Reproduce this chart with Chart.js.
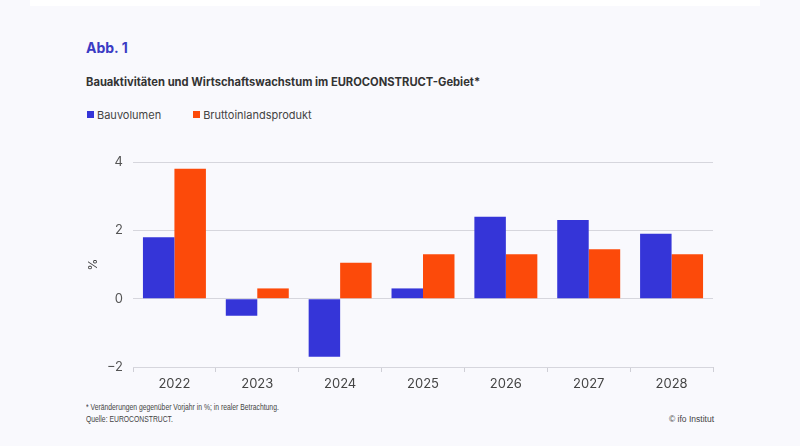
<!DOCTYPE html>
<html>
<head>
<meta charset="utf-8">
<script src="https://cdn.jsdelivr.net/npm/chart.js@4"></script>
<style>
  body { margin: 0; background: #f9f9fd; }
  #wrap { position: relative; width: 800px; height: 446px; overflow: hidden; background: #f9f9fd; }
  #topband { position: absolute; left: 30px; top: 0; width: 730px; height: 6px; background: #ffffff; }
  .txt { position: absolute; white-space: nowrap; font-family: Inter, "Noto Sans", sans-serif; }
  #abb { left: 86px; top: 39px; font-size: 14px; font-weight: 700; color: #3b3bc4; }
  #title { left: 86px; top: 75px; font-size: 11.2px; font-weight: 700; color: #333; }
  #legend { left: 87px; top: 108px; font-size: 11px; color: #444; }
  #legend span.sw { display: inline-block; width: 7px; height: 7px; margin-right: 3px; vertical-align: 1px; }
  #legend span.item { margin-right: 32px; }
  .foot { font-family: "Liberation Sans", sans-serif; font-size: 8.5px; color: #444; }
  #note, #src { transform: scaleX(0.8); transform-origin: left top; }
  #note { left: 86px; top: 402px; }
  #src { left: 86px; top: 414px; }
  #copy { right: 86px; top: 414px; }
  #chartBox { position: absolute; left: 0; top: 140px; width: 800px; height: 260px; }
</style>
</head>
<body>
<div id="wrap">
  <div id="topband"></div>
  <div class="txt" id="abb">Abb. 1</div>
  <div class="txt" id="title">Bauaktivitäten und Wirtschaftswachstum im EUROCONSTRUCT-Gebiet*</div>
  <div class="txt" id="legend"></div>
  <div id="chartBox"><canvas id="chart"></canvas></div>
  <div class="txt foot" id="note">* Veränderungen gegenüber Vorjahr in %; in realer Betrachtung.</div>
  <div class="txt foot" id="src">Quelle: EUROCONSTRUCT.</div>
  <div class="txt foot" id="copy">© ifo Institut</div>
</div>
<script>
const years = ["2022", "2023", "2024", "2025", "2026", "2027", "2028"]
const bauvolumen = [1.8, -0.5, -1.7, 0.3, 2.4, 2.3, 1.9]
const bip = [3.8, 0.3, 1.05, 1.3, 1.3, 1.45, 1.3]
const seriesNames = ["Bauvolumen", "Bruttoinlandsprodukt"]
const yTicks = [-2, 0, 2, 4]

const blue = "#3535d8"
const orange = "#fc4a0a"

const legend = document.getElementById("legend")
legend.innerHTML =
    `<span class="item"><span class="sw" style="background:${blue}"></span>${seriesNames[0]}</span>` +
    `<span class="item"><span class="sw" style="background:${orange}"></span>${seriesNames[1]}</span>`

const ctx = document.getElementById("chart").getContext("2d")

const chart = new Chart(ctx, {
    type: "bar",
    data: {
        labels: years,
        datasets: [
            { label: seriesNames[0], data: bauvolumen, backgroundColor: blue },
            { label: seriesNames[1], data: bip, backgroundColor: orange }
        ]
    },
    options: {
        responsive: true,
        maintainAspectRatio: false,
        animation: false,
        layout: { padding: { left: 80, right: 87, top: 22, bottom: 0 } },
        datasets: { bar: { barPercentage: 1, categoryPercentage: 0.76 } },
        plugins: { legend: { display: false }, tooltip: { enabled: false } },
        scales: {
            x: {
                offset: true,
                grid: { offset: true, drawOnChartArea: false, tickLength: 5, color: "#cfcfd6" },
                border: { display: false },
                ticks: { color: "#444", font: { family: "Inter", size: 13 }, padding: 4 },
                afterFit: (s) => { s.height = 33 }
            },
            y: {
                min: -2,
                max: 4,
                afterBuildTicks: (s) => { s.ticks = yTicks.map(v => ({ value: v })) },
                grid: { drawTicks: false, color: "#d6d6dd", lineWidth: 1 },
                border: { display: false },
                ticks: {
                    color: "#555",
                    font: { family: "Inter", size: 13 },
                    padding: 10,
                    callback: (v) => (v < 0 ? "\u2212" + Math.abs(v) : String(v))
                },
                title: { display: true, text: "%", color: "#444", font: { family: "Inter", size: 12 }, padding: { top: 6, bottom: 2 } },
                afterFit: (s) => { s.width = 53 }
            }
        }
    }
})
</script>
</body>
</html>
